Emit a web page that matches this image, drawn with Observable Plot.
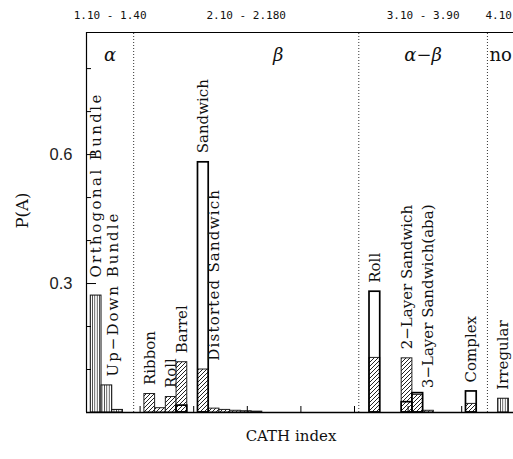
<!DOCTYPE html>
<html><head><meta charset="utf-8">
<script src="https://cdn.jsdelivr.net/npm/d3@7"></script>
<script src="https://cdn.jsdelivr.net/npm/@observablehq/plot@0.6"></script>
<style>
html,body{margin:0;padding:0;background:#fff;overflow:hidden;}
</style></head><body><div id="chart"></div>
<script>
// ---------------- data ----------------
const classNames  = ["α", "β", "α−β", "no"];
const classRanges = ["1.10 - 1.40", "2.10 - 2.180", "3.10 - 3.90", "4.10"];
const classEdges  = [-0.4, 4, 25, 37];          // CATH-index slot where each class starts

// hatched series (slot index, P(A))
const hatchBins   = [0, 1, 2, 5, 6, 7, 8, 10, 11, 12, 13, 14, 15, 26, 29, 30, 31, 35, 38];
const hatchValues = [0.272, 0.063, 0.006, 0.043, 0.010, 0.036, 0.117, 0.100, 0.009, 0.006, 0.004, 0.003, 0.002, 0.127, 0.126, 0.041, 0.004, 0.020, 0.032];
// open (outlined) series
const openBins    = [8, 10, 26, 29, 30, 35];
const openValues  = [0.016, 0.582, 0.281, 0.024, 0.045, 0.049];

// architecture labels
const archNames = ["Orthogonal Bundle", "Up−Down Bundle", "Ribbon", "Roll", "Barrel", "Sandwich",
                   "Distorted Sandwich", "Roll", "2−Layer Sandwich", "3−Layer Sandwich(aba)", "Complex", "Irregular"];
const archBins  = [0, 1, 5, 7, 8, 10, 11, 26, 29, 30, 35, 38];

const yMajor = [0.3, 0.6];
const yMinor = [0.1, 0.2, 0.4, 0.5, 0.7, 0.8];

// ---------------- layout ----------------
const W = 513, H = 459, ML = 86, MT = 32, MB = 47, MR = 0;
const slotPx = 10.72;
const xMin = -0.4, xMax = xMin + (W - ML - MR) / slotPx;
const yMax = 0.884;
const pxX = (W - ML - MR) / (xMax - xMin);
const pxY = (H - MT - MB) / yMax;
const labelLift = {0: 18, 6: 48, 9: 5};   // px above bar top (default 9)
const labelNudge = {1: 0.6, 9: 1};        // slots to the right
const labelSpacing = {0: 2.4, 1: 2.0, 6: 1.2}; // letter-spacing px
const xTicks = d3.range(xMin + 5, xMax, 5);

const hatch = hatchBins.map((b, i) => ({bin: b, v: hatchValues[i], vert: b < classEdges[1] || b >= classEdges[3]}));
const open = openBins.map((b, i) => ({bin: b, v: openValues[i]}));
const topOf = b => Math.max(0, ...hatch.filter(d => d.bin === b).map(d => d.v), ...open.filter(d => d.bin === b).map(d => d.v));
const labels = archNames.map((n, i) => ({
  name: n, idx: i,
  x: archBins[i] + 0.5 + (labelNudge[i] || 0),
  y: topOf(archBins[i]) + (labelLift[i] ?? 9) / pxY
}));
const classes = classNames.map((n, i) => ({
  name: n, range: classRanges[i],
  start: classEdges[i],
  mid: i < 3 ? (classEdges[i] + classEdges[i + 1]) / 2 : classEdges[i]
}));
const betaDx = 32;

const serif = "DejaVu Serif";
const svg = Plot.plot({
  width: W, height: H,
  marginLeft: ML, marginTop: MT, marginBottom: MB, marginRight: MR,
  style: {overflow: "hidden", background: "#fff"},
  x: {domain: [xMin, xMax], axis: null},
  y: {domain: [0, yMax], axis: null},
  marks: [
    Plot.ruleX(classEdges.slice(1), {x: d => d, y1: 0, y2: yMax, stroke: "#333", strokeWidth: 1, strokeDasharray: "1,2"}),
    Plot.rectY(hatch.filter(d => d.vert), {x1: d => d.bin, x2: d => d.bin + 1, y1: 0, y2: d => d.v, fill: "url(#vhatch)", stroke: "#111", strokeWidth: 1}),
    Plot.rectY(hatch.filter(d => !d.vert), {x1: d => d.bin, x2: d => d.bin + 1, y1: 0, y2: d => d.v, fill: "url(#dhatch)", stroke: "#222", strokeWidth: 1}),
    Plot.rectY(open, {x1: d => d.bin, x2: d => d.bin + 1, y1: 0, y2: d => d.v, fill: "none", stroke: "#000", strokeWidth: 1.7}),
    // frame (right side is cut off)
    Plot.ruleX([xMin], {y1: 0, y2: yMax, stroke: "#000", strokeWidth: 1.2}),
    Plot.ruleY([yMax], {x1: xMin, x2: xMax, stroke: "#000", strokeWidth: 1.2}),
    Plot.ruleY([0], {x1: xMin, x2: xMax, stroke: "#000", strokeWidth: 1.6}),
    // inward ticks
    Plot.ruleY(yMinor, {y: d => d, x1: xMin, x2: xMin + 5 / pxX, stroke: "#000", strokeWidth: 1}),
    Plot.ruleY(yMajor, {y: d => d, x1: xMin, x2: xMin + 10 / pxX, stroke: "#000", strokeWidth: 1}),
    Plot.ruleX(xTicks, {x: d => d, y1: 0, y2: 6 / pxY, stroke: "#000", strokeWidth: 1}),
    // y tick labels
    Plot.text(yMajor, {x: xMin, y: d => d, text: d => d.toFixed(1), textAnchor: "end", dx: -14, fontSize: 16.5, fontFamily: "Liberation Sans", fill: "#222"}),
    // architecture labels
    Plot.text(labels, {x: "x", y: "y", text: "name", rotate: -90, textAnchor: "start", fontSize: 15, fontFamily: serif, fill: "#111"}),
    // class labels
    Plot.text(classes.slice(0, 3), {x: "mid", y: yMax, text: "name", dy: 23, fontSize: 18, fontFamily: serif, fontStyle: "italic", fill: "#111"}),
    Plot.text(classes.slice(3), {x: "start", y: yMax, text: "name", textAnchor: "start", dx: 2, dy: 23, fontSize: 18, fontFamily: serif, fill: "#111"}),
    // CATH ranges above frame
    Plot.text(classes.slice(0, 3), {x: "mid", y: yMax, text: "range", dy: -17, fontSize: 11, fontFamily: "DejaVu Sans Mono", fill: "#111"}),
    Plot.text(classes.slice(3), {x: "start", y: yMax, text: "range", textAnchor: "start", dx: -2, dy: -17, fontSize: 11, fontFamily: "DejaVu Sans Mono", fill: "#111"}),
    // axis titles
    Plot.text(["P(A)"], {frameAnchor: "left", text: d => d, rotate: -90, dx: -64, dy: 6, fontSize: 16.5, fontFamily: serif, fill: "#111"}),
    Plot.text(["CATH index"], {frameAnchor: "bottom", text: d => d, dx: -9, dy: 28, fontSize: 15, fontFamily: serif, fill: "#111"})
  ]
});

const sel = d3.select(svg);
// β label offset
sel.selectAll("text").filter(function() { return this.textContent === "β"; }).attr("dx", betaDx);
// per-label letter spacing
sel.selectAll("text").each(function() {
  const i = archNames.indexOf(this.textContent);
  if (i >= 0 && labelSpacing[i]) d3.select(this).style("letter-spacing", labelSpacing[i] + "px");
});

const defs = sel.insert("defs", ":first-child");
const dp = defs.append("pattern").attr("id", "dhatch").attr("patternUnits", "userSpaceOnUse").attr("width", 4).attr("height", 4);
dp.append("rect").attr("width", 4).attr("height", 4).attr("fill", "#fff");
dp.append("path").attr("d", "M-1,1 L1,-1 M0,4 L4,0 M3,5 L5,3").attr("stroke", "#222").attr("stroke-width", 1);
const vp = defs.append("pattern").attr("id", "vhatch").attr("patternUnits", "userSpaceOnUse").attr("width", 2.4).attr("height", 4);
vp.append("rect").attr("width", 2.4).attr("height", 4).attr("fill", "#fff");
vp.append("path").attr("d", "M1.2,0 L1.2,4").attr("stroke", "#222").attr("stroke-width", 0.8);

document.getElementById("chart").appendChild(svg);
</script></body></html>
